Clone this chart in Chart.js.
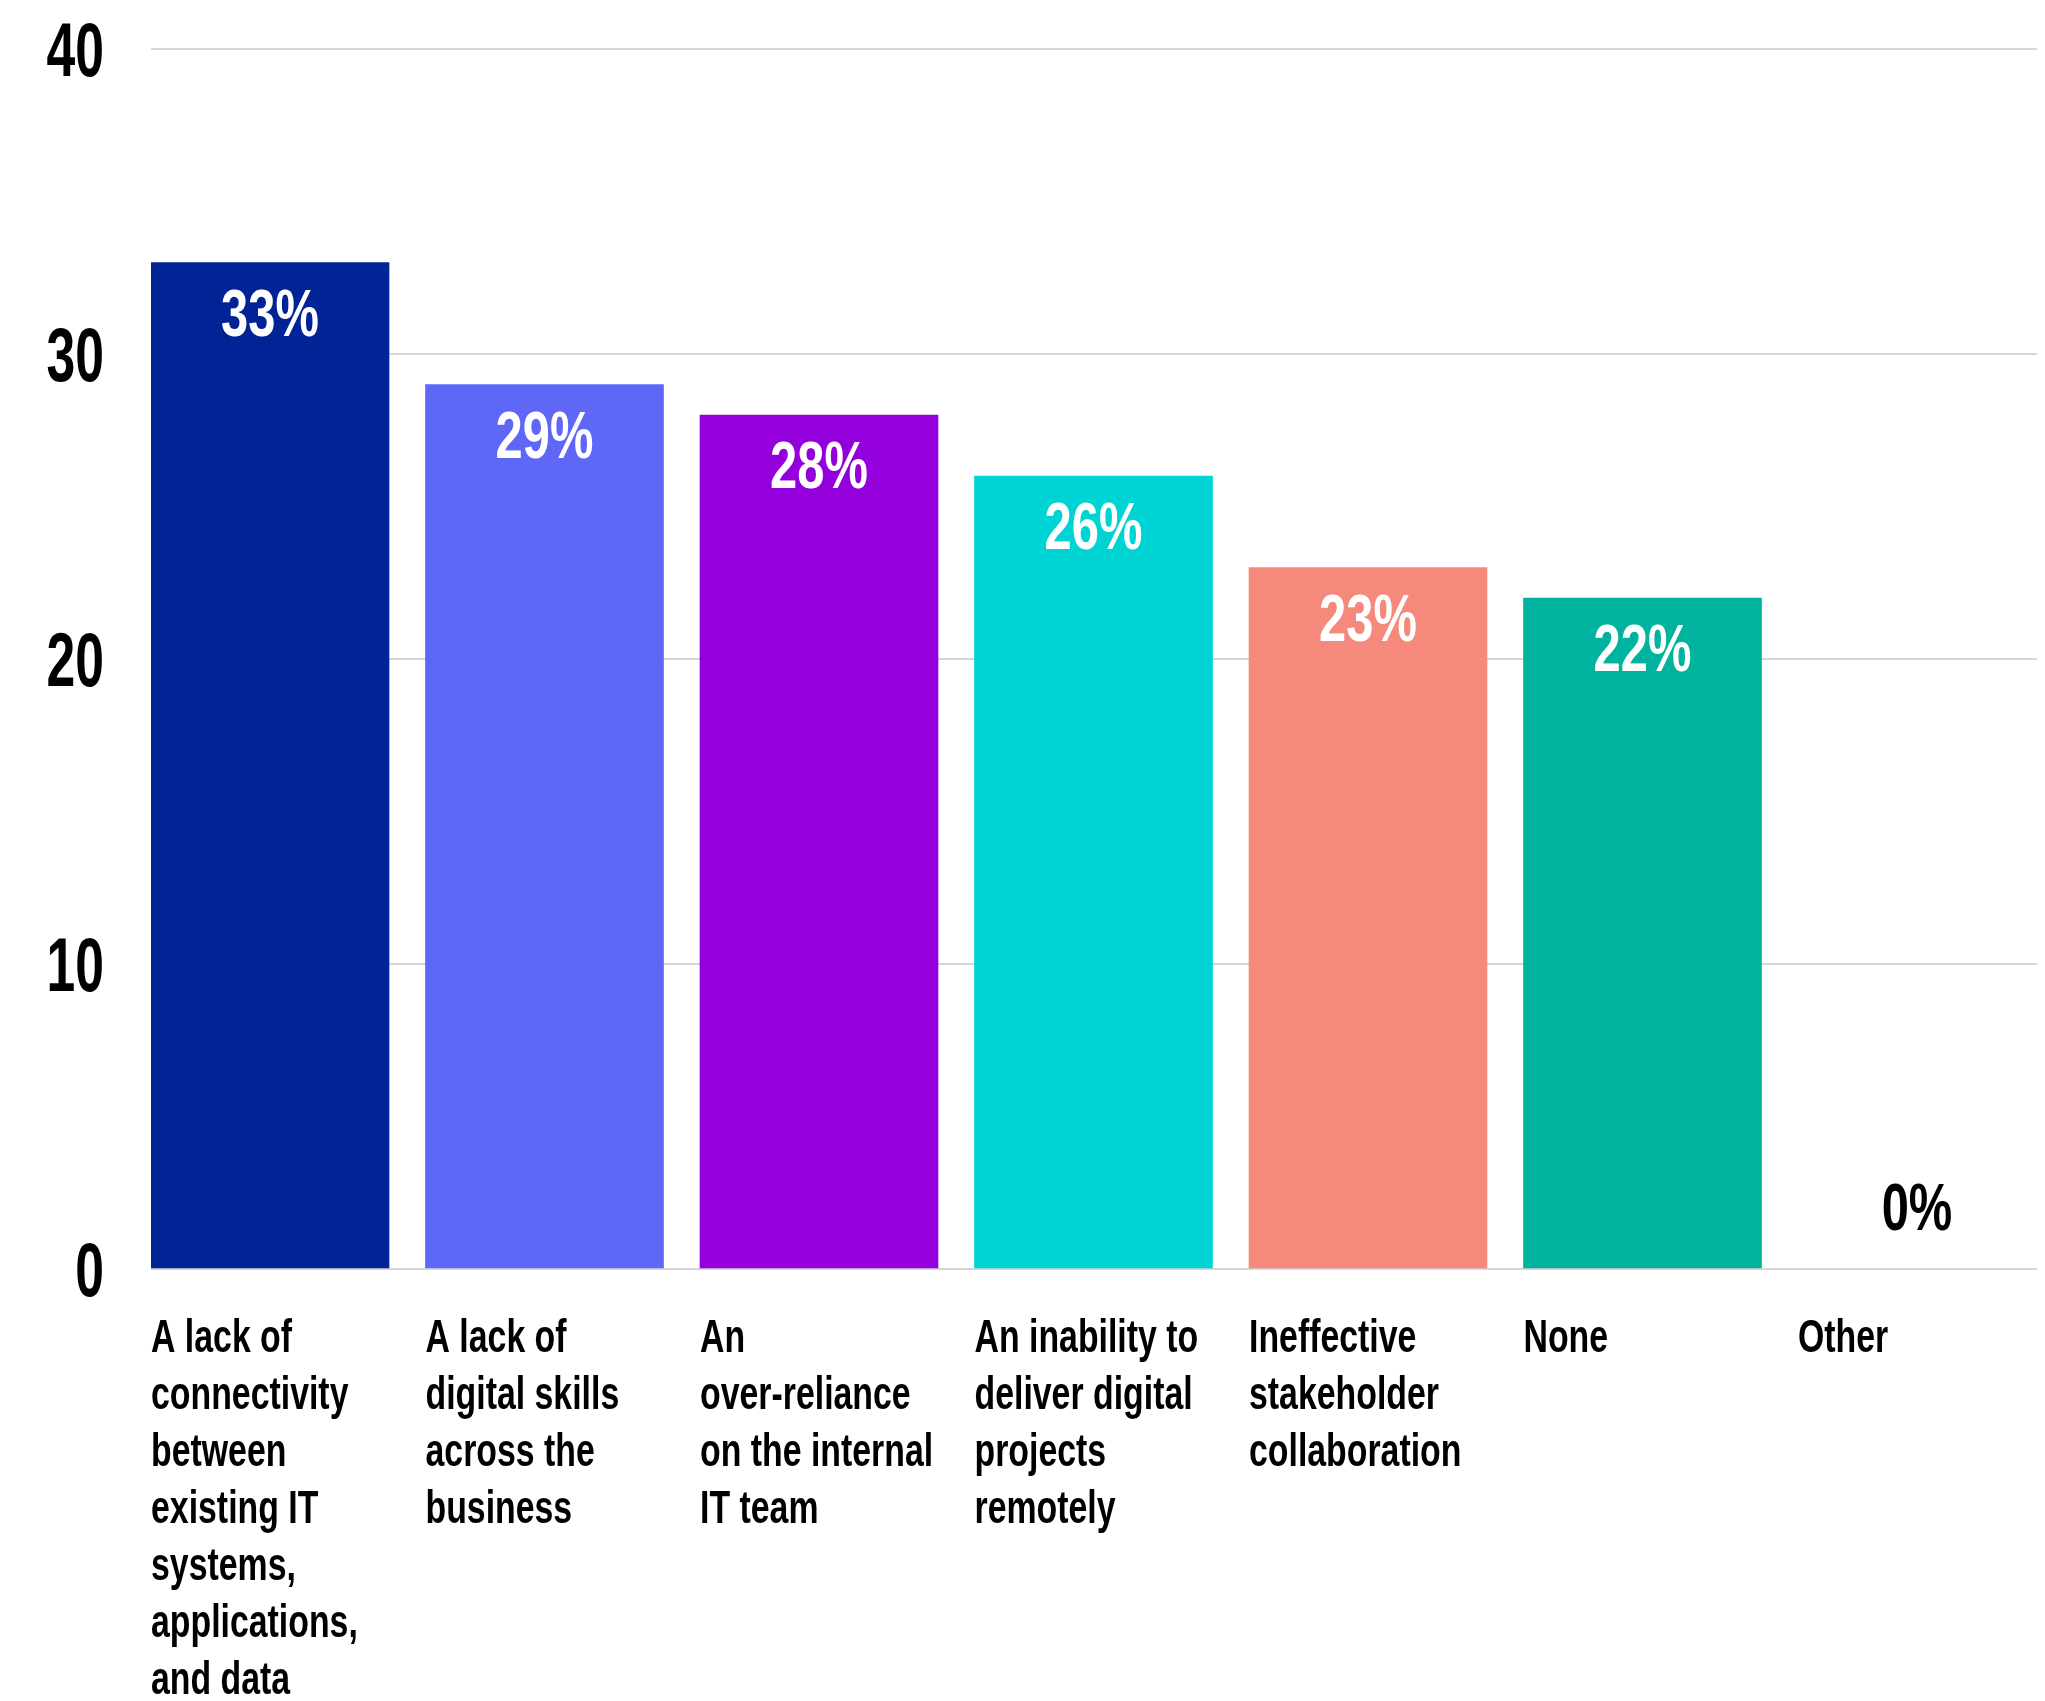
<!DOCTYPE html>
<html>
<head>
<meta charset="utf-8">
<script src="https://cdn.jsdelivr.net/npm/chart.js@4/dist/chart.umd.min.js"></script>
<style>
  html, body { margin: 0; padding: 0; background: #ffffff; }
  #wrap { width: 2045px; height: 1701px; }
</style>
</head>
<body>
<div id="wrap"><canvas id="challengeChart" width="2045" height="1701"></canvas></div>
<script>
// Categories (pre-wrapped into lines) and percentages
const categories = [
    ['A lack of', 'connectivity', 'between', 'existing IT', 'systems,', 'applications,', 'and data'],
    ['A lack of', 'digital skills', 'across the', 'business'],
    ['An', 'over-reliance', 'on the internal', 'IT team'],
    ['An inability to', 'deliver digital', 'projects', 'remotely'],
    ['Ineffective', 'stakeholder', 'collaboration'],
    ['None'],
    ['Other']
];
const percentages = [33, 29, 28, 26, 23, 22, 0];
const barColors = ['#002395', '#5f67f6', '#9400dc', '#00d3d3', '#f5897c', '#00b39e', '#cccccc'];
const yTicks = [0, 10, 20, 30, 40];

const FONT = "'Liberation Sans', Arial, sans-serif";

// draw text squeezed horizontally, for a condensed look
function squeezed(ctx, text, x, y, sx, align) {
    ctx.save();
    ctx.translate(x, y);
    ctx.scale(sx, 1);
    ctx.textAlign = align;
    ctx.textBaseline = 'alphabetic';
    ctx.fillText(text, 0, 0);
    ctx.restore();
}

// Axis labels and percent labels
const textLayer = {
    id: 'textLayer',
    afterDatasetsDraw(chart) {
        const ctx = chart.ctx;
        const yScale = chart.scales.y;
        const meta = chart.getDatasetMeta(0);
        ctx.save();
        ctx.fillStyle = '#000000';

        // y tick labels
        ctx.font = 'bold 76px ' + FONT;
        yTicks.forEach(v => {
            squeezed(ctx, String(v), yScale.left + yScale.width - 47, yScale.getPixelForValue(v) + 27, 0.68, 'right');
        });

        // category labels, left aligned under each bar
        ctx.font = 'bold 47px ' + FONT;
        meta.data.forEach((bar, i) => {
            const left = bar.x - bar.width / 2;
            categories[i].forEach((line, j) => {
                squeezed(ctx, line, left, chart.chartArea.bottom + 83 + j * 57, 0.72, 'left');
            });
        });

        // percent labels: white inside the bar, dark above an empty bar
        ctx.font = 'bold 66px ' + FONT;
        meta.data.forEach((bar, i) => {
            const v = percentages[i];
            if (v > 0) {
                ctx.fillStyle = '#ffffff';
                squeezed(ctx, v + '%', bar.x, bar.y + 73, 0.74, 'center');
            } else {
                ctx.fillStyle = '#000000';
                squeezed(ctx, v + '%', bar.x, bar.base - 39, 0.74, 'center');
            }
        });
        ctx.restore();
    }
};

const ctx = document.getElementById('challengeChart').getContext('2d');
new Chart(ctx, {
    type: 'bar',
    data: {
        datasets: [{
            data: percentages.map((v, i) => ({ x: i, y: v })),
            backgroundColor: barColors,
            barThickness: 238,
            borderWidth: 0
        }]
    },
    options: {
        responsive: false,
        animation: false,
        events: [],
        layout: { padding: { top: 49, right: 8, left: 0, bottom: 0 } },
        plugins: {
            legend: { display: false },
            tooltip: { enabled: false }
        },
        scales: {
            x: {
                type: 'linear',
                offset: false,
                min: -0.4335,
                max: 6.4372,
                grid: { display: false, offset: false },
                border: { display: false },
                ticks: { display: false },
                afterFit: (scale) => { scale.height = 432; }
            },
            y: {
                min: 0,
                max: 40,
                afterBuildTicks: (scale) => {
                    scale.ticks = yTicks.map(v => ({ value: v }));
                },
                afterFit: (scale) => { scale.width = 151; },
                grid: { color: '#d6d6d6', lineWidth: 2, drawTicks: false },
                border: { display: false },
                ticks: { display: false }
            }
        }
    },
    plugins: [textLayer]
});
</script>
</body>
</html>
